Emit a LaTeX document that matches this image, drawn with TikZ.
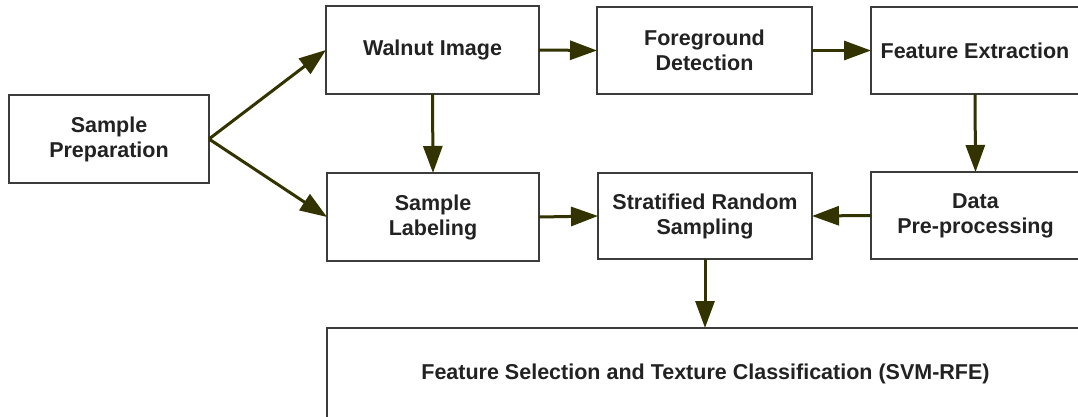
\documentclass[tikz,border=0pt]{standalone}
\usepackage{fontspec}
\setmainfont{Liberation Sans}
\usetikzlibrary{arrows.meta}
\definecolor{arrowcol}{RGB}{51,51,0}
\definecolor{boxline}{RGB}{60,60,60}
\definecolor{txt}{RGB}{34,34,34}
\begin{document}
\begin{tikzpicture}[x=1pt,y=-1pt,
  box/.style={draw=boxline, line width=1.6pt, fill=white, align=center,
    inner sep=0pt, outer sep=0pt, text=txt,
    font=\fontsize{21.5}{25}\selectfont\bfseries},
  flow/.style={draw=arrowcol, line width=3pt,
    -{Triangle[length=27pt,width=19pt]}}]
\useasboundingbox (0,0) rectangle (1078,417);
\fill[white] (0,0) rectangle (1078,417);
\clip (0,0) rectangle (1078,417);
\node[box, minimum width=200pt, minimum height=88pt] (prep) at (109,139) {Sample\\Preparation};
\node[box, minimum width=213pt, minimum height=88pt] (walnut) at (432.5,50) {Walnut Image};
\node[box, minimum width=212pt, minimum height=88pt] (label) at (433,217) {Sample\\Labeling};
\node[box, minimum width=215pt, minimum height=87pt] (fg) at (704.5,50.5) {Foreground\\Detection};
\node[box, minimum width=214pt, minimum height=86pt] (strat) at (705,216) {Stratified Random\\Sampling};
\node[box, minimum width=208pt, minimum height=87pt] (fe) at (975,50.5) {Feature Extraction};
\node[box, minimum width=209pt, minimum height=87pt] (data) at (975.5,215.5) {Data\\Pre-processing};
\node[box, minimum width=757pt, minimum height=92pt, anchor=north west] (fs) at (327,328) {Feature Selection and Texture Classification (SVM-RFE)};
\draw[flow] (prep.east) -- (walnut.west);
\draw[flow] (prep.east) -- (label.west);
\draw[flow] (walnut.east) -- (fg.west);
\draw[flow] (fg.east) -- (fe.west);
\draw[flow] (walnut.south) -- (label.north);
\draw[flow] (fe.south) -- (data.north);
\draw[flow] (label.east) -- (strat.west);
\draw[flow] (data.west) -- (strat.east);
\draw[flow] (strat.south) -- (strat.south |- fs.north);
\end{tikzpicture}
\end{document}
